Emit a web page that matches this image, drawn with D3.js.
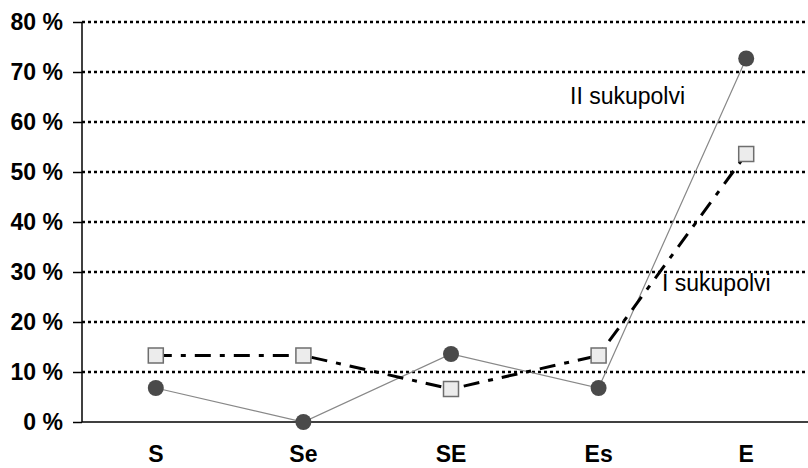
<!DOCTYPE html>
<html><head><meta charset="utf-8">
<script src="https://cdn.jsdelivr.net/npm/d3@7"></script>
<style>html,body{margin:0;padding:0;background:#fff;}svg{display:block;}</style>
</head><body>
<script>
const categories = ["S", "Se", "SE", "Es", "E"];
const seriesII = [6.8, 0, 13.6, 6.8, 72.7];   // II sukupolvi (circles)
const seriesI = [13.3, 13.3, 6.6, 13.3, 53.6]; // I sukupolvi (squares)
const yTicks = [0, 10, 20, 30, 40, 50, 60, 70, 80];
const labelII = "II sukupolvi";
const labelI = "I sukupolvi";

const W = 808, H = 468;
const svg = d3.select("body").append("svg").attr("width", W).attr("height", H);
const mLeft = 82, mTop = 22, mBottom = 422;
const x = d3.scaleBand().domain(categories).range([mLeft, mLeft + 5 * 147.6]);
const y = d3.scaleLinear().domain([0, 80]).range([mBottom, mTop]);
const cx = d => x(d) + x.bandwidth() / 2;
const FONT = "Arial, 'Liberation Sans', sans-serif";

// gridlines
svg.append("g").selectAll("line").data(yTicks.filter(t => t > 0)).join("line")
  .attr("x1", mLeft).attr("x2", W).attr("y1", d => y(d)).attr("y2", d => y(d))
  .attr("stroke", "#000").attr("stroke-width", 2.5).attr("stroke-dasharray", "3,3");

// y axis
const yAxis = d3.axisLeft(y).tickValues(yTicks).tickFormat(d => d + " %").tickSize(9).tickPadding(10);
const gy = svg.append("g").attr("transform", `translate(${mLeft},0)`).call(yAxis);
gy.select(".domain").attr("stroke", "#000").attr("stroke-width", 1.5).attr("d", `M0,${mTop}V${mBottom}`);
gy.selectAll(".tick line").attr("stroke", "#000").attr("stroke-width", 1.5);
gy.selectAll(".tick text").attr("fill", "#000").style("font-family", FONT)
  .style("font-size", "23px").style("font-weight", "bold");

// x axis
const xAxis = d3.axisBottom(x).tickSize(0).tickPadding(24);
const gx = svg.append("g").attr("transform", `translate(0,${mBottom})`).call(xAxis);
gx.select(".domain").attr("stroke", "#000").attr("stroke-width", 1.5).attr("d", `M${mLeft},0H${W}`);
gx.selectAll(".tick text").attr("fill", "#000").style("font-family", FONT)
  .style("font-size", "23px").style("font-weight", "bold");

// lines
const lineGen = d3.line().x((d, i) => cx(categories[i])).y(d => y(d));
svg.append("path").datum(seriesII).attr("d", lineGen).attr("fill", "none")
  .attr("stroke", "#888").attr("stroke-width", 1.2);
svg.append("path").datum(seriesI).attr("d", lineGen).attr("fill", "none")
  .attr("stroke", "#000").attr("stroke-width", 3).attr("stroke-dasharray", "16,9,5,9");

// markers
svg.append("g").selectAll("rect").data(seriesI).join("rect")
  .attr("x", (d, i) => cx(categories[i]) - 7.5).attr("y", d => y(d) - 7.5)
  .attr("width", 15).attr("height", 15)
  .attr("fill", "#ececec").attr("stroke", "#6e6e6e").attr("stroke-width", 1.5);
svg.append("g").selectAll("circle").data(seriesII).join("circle")
  .attr("cx", (d, i) => cx(categories[i])).attr("cy", d => y(d)).attr("r", 8)
  .attr("fill", "#4a4a4a");

// labels
svg.append("text").attr("x", 570).attr("y", 104).text(labelII)
  .style("font-family", FONT).style("font-size", "23px").attr("fill", "#000");
svg.append("text").attr("x", 662).attr("y", 291).text(labelI)
  .style("font-family", FONT).style("font-size", "23px").attr("fill", "#000");
</script>
</body></html>
